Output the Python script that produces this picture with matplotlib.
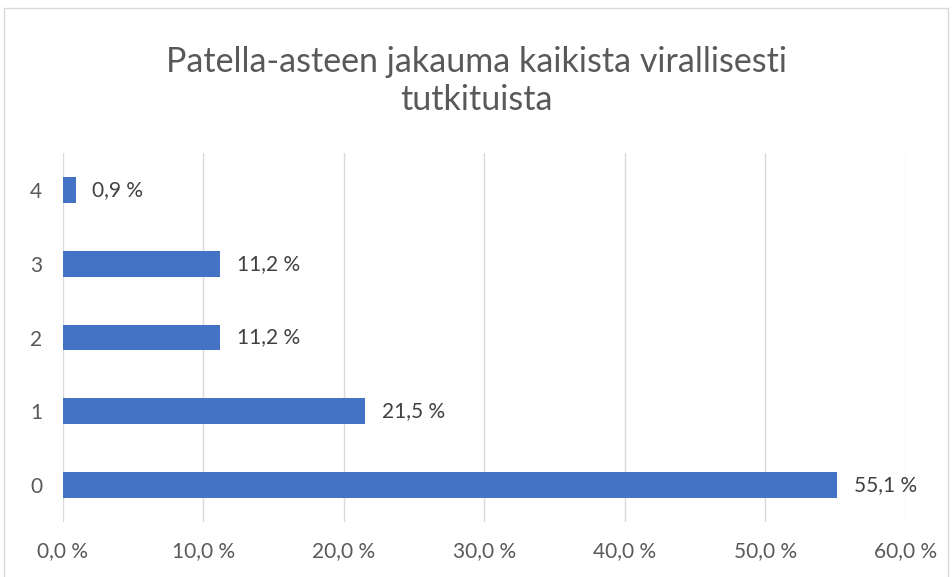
import matplotlib
matplotlib.use("Agg")
import matplotlib.pyplot as plt
from matplotlib.patches import Rectangle

categories = ["0", "1", "2", "3", "4"]
values = [55.1, 21.5, 11.2, 11.2, 0.9]
xticks = [0, 10, 20, 30, 40, 50, 60]
title = "Patella-asteen jakauma kaikista virallisesti\ntutkituista"

plt.rcParams['font.family'] = ['Lato', 'DejaVu Sans']

W, H = 953, 577
fig = plt.figure(figsize=(W/100, H/100), dpi=100)
ax = fig.add_axes([63/W, 1-522/H, (906-63)/W, (522-153)/H])

fig.patches.append(Rectangle((4/W, -0.01), (948-4)/W, 1-8/H+0.01, transform=fig.transFigure,
                             fill=False, edgecolor='#d9d9d9', linewidth=1))

ypos = list(range(len(categories)))
ax.barh(ypos, values, height=0.35, color='#4472C4', zorder=3)
for y, v in zip(ypos, values):
    ax.annotate(f"{v:.1f} %".replace('.', ','), xy=(v, y), xytext=(12, 0),
                textcoords='offset points', va='center', ha='left',
                fontsize=15, color='#404040')

ax.set_xlim(0, 60)
ax.set_ylim(-0.5, 4.5)
ax.set_xticks(xticks)
ax.set_xticklabels([f"{t:.1f} %".replace('.', ',') for t in xticks])
ax.set_yticks(ypos)
ax.set_yticklabels(categories)
ax.tick_params(axis='both', length=0, labelsize=15, labelcolor='#595959')
ax.tick_params(axis='x', pad=14)
ax.tick_params(axis='y', pad=15)
ax.grid(axis='x', color='#d9d9d9', linewidth=1, zorder=0)
for s in ax.spines.values():
    s.set_visible(False)

fig.text(0.5, 1-81/H, title, ha='center', va='center', fontsize=24.5,
         color='#595959', linespacing=1.2)

fig.savefig("out.png", dpi=100)
